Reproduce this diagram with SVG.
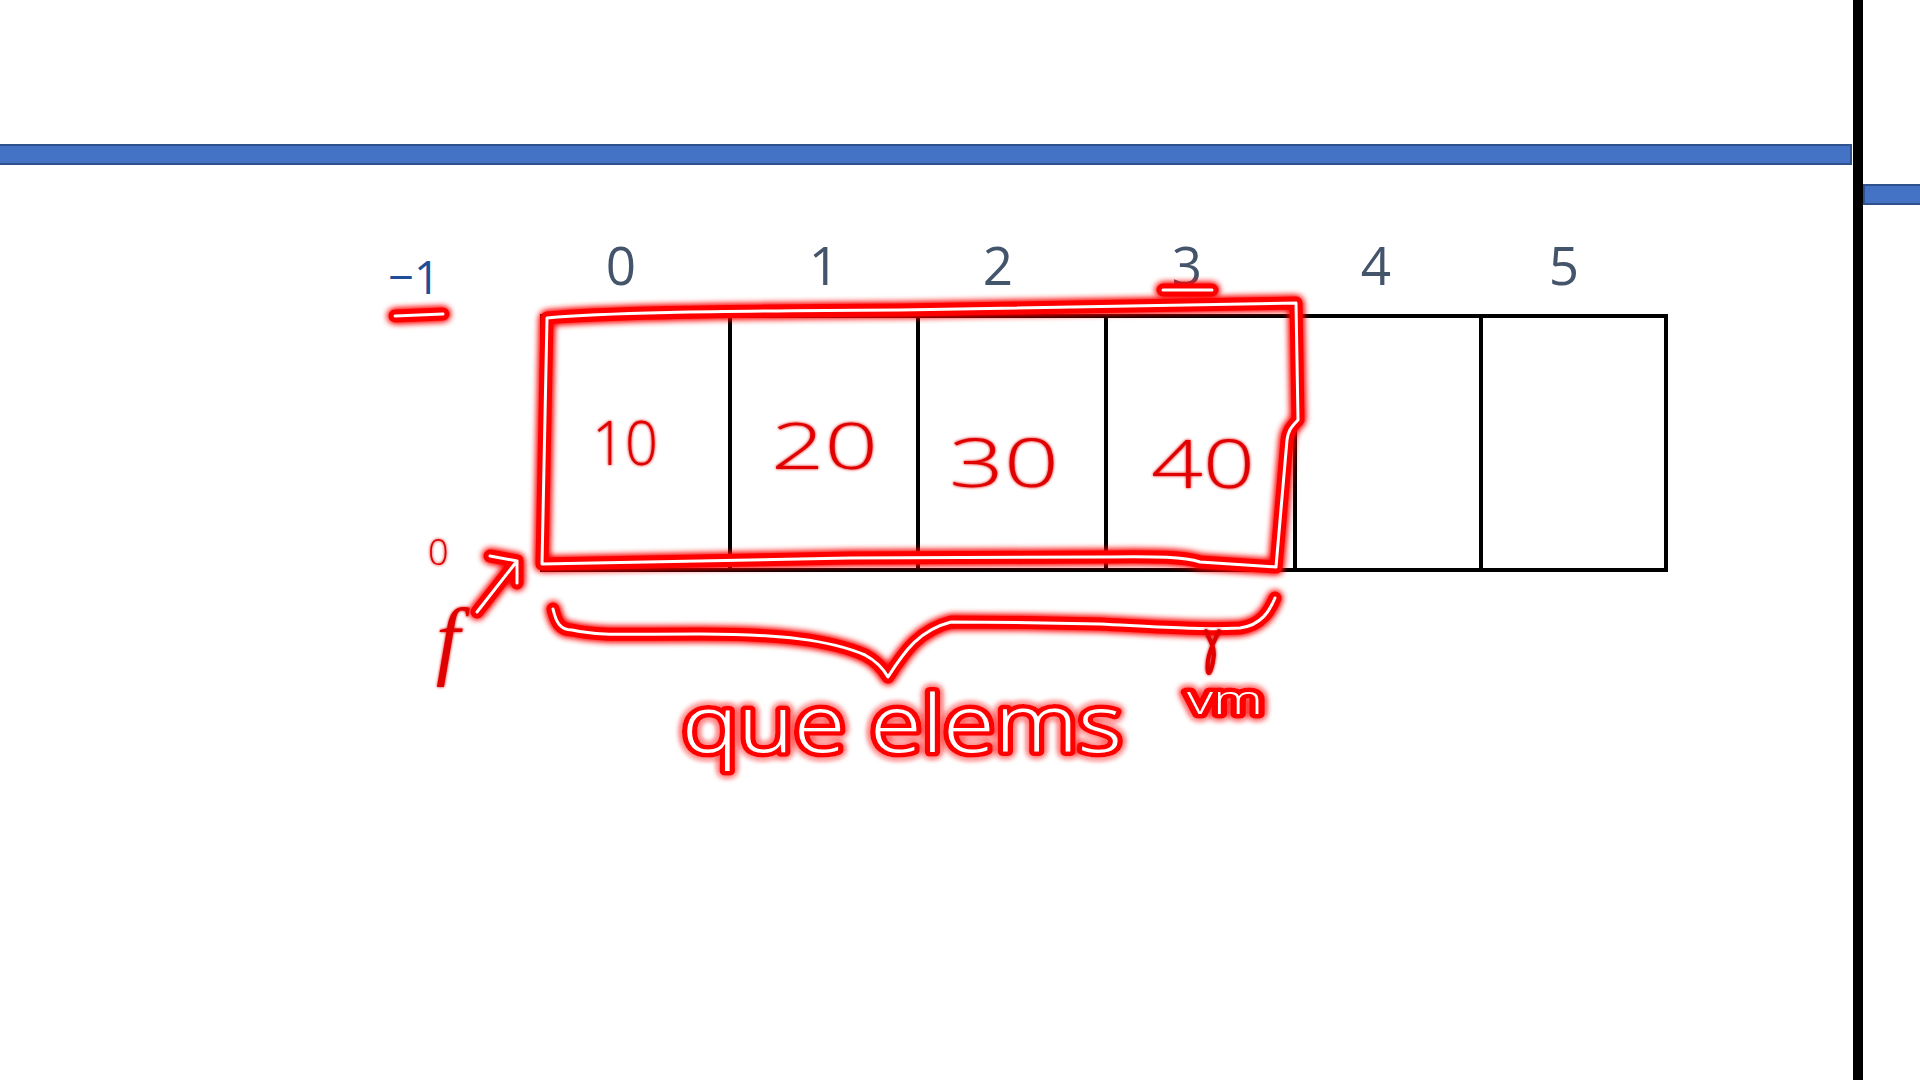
<svg xmlns="http://www.w3.org/2000/svg" width="1920" height="1080" viewBox="0 0 1920 1080">
<defs>
<filter id="glow" filterUnits="userSpaceOnUse" x="0" y="0" width="1920" height="1080">
<feGaussianBlur in="SourceGraphic" stdDeviation="3.5" result="b"/>
<feMerge><feMergeNode in="b"/><feMergeNode in="b"/><feMergeNode in="SourceGraphic"/></feMerge>
</filter>
<filter id="soft" filterUnits="userSpaceOnUse" x="0" y="0" width="1920" height="1080">
<feGaussianBlur in="SourceGraphic" stdDeviation="1.5" result="b"/>
<feMerge><feMergeNode in="b"/><feMergeNode in="SourceGraphic"/></feMerge>
</filter>
<style>
.idx{font-family:"Open Sans","Liberation Sans",sans-serif;font-size:53px;fill:#44546A;text-anchor:middle}
.cell{fill:#fff;stroke:#000;stroke-width:4}
.bar{fill:#4472C4;stroke:#2F528F;stroke-width:2}
.neonO{fill:none;stroke:#ff0000;stroke-width:13;stroke-linecap:round;stroke-linejoin:round;filter:url(#glow)}
.neonI{fill:none;stroke:#fff;stroke-width:3;stroke-linecap:round;stroke-linejoin:round}
.red{fill:none;stroke:#e00000;stroke-width:4;stroke-linecap:round;stroke-linejoin:round;filter:url(#soft)}
.hand{font-family:"Open Sans","Liberation Sans",sans-serif;font-weight:300;fill:#e00000;filter:url(#soft)}
.neonT{font-family:"Open Sans","Liberation Sans",sans-serif;font-weight:300;fill:#fff;stroke:#ff0000;stroke-width:9;paint-order:stroke;stroke-linejoin:round;filter:url(#glow)}
</style>
<path id="rectp" d="M547,318 C600,313 700,311 900,310 L1296,303 L1298,420 C1290,428 1288,432 1287,440 L1276,567 L1200,562 C1185,557 1160,556 1100,557 L850,558 L542,564 L547,318 Z"/>
<path id="bracep" d="M553,609 C556,622 560,630 572,630 C600,636 620,634 700,634 C780,634 830,640 865,655 C878,662 884,670 888,677 C905,650 920,630 951,622 C1000,622 1060,623 1100,624 C1160,627 1200,630 1240,628 C1262,625 1270,610 1275,598"/>
<path id="arrowp" d="M477,612 L517,561 M490,556 L517,561 L517,583"/>
<path id="ul1" d="M395,316 L443,314"/>
<path id="ul3" d="M1163,290 L1212,290"/>
</defs>
<rect width="1920" height="1080" fill="#fff"/>
<g id="frame">
<rect class="bar" x="-2" y="145" width="1853" height="19"/>
<rect x="1853" y="0" width="10" height="1080" fill="#000"/>
<rect class="bar" x="1864" y="185" width="60" height="19"/>
</g>
<g id="indices">
<text class="idx" x="621" y="285">0</text>
<text class="idx" x="824" y="285">1</text>
<text class="idx" x="998" y="285">2</text>
<text class="idx" x="1187" y="285">3</text>
<text class="idx" x="1376" y="285">4</text>
<text class="idx" x="1564" y="285">5</text>
<text x="388" y="294" font-family="Open Sans, Liberation Sans, sans-serif" font-size="46" fill="#1F4E99" textLength="52" lengthAdjust="spacingAndGlyphs">−1</text>
</g>
<g id="cell0"><rect class="cell" x="542" y="316" width="188" height="254"/><text class="hand" x="592" y="465" font-size="60" textLength="66" lengthAdjust="spacingAndGlyphs">10</text></g>
<g id="cell1"><rect class="cell" x="730" y="316" width="188" height="254"/><text class="hand" x="771" y="469" font-size="64" textLength="107" lengthAdjust="spacingAndGlyphs">20</text></g>
<g id="cell2"><rect class="cell" x="918" y="316" width="188" height="254"/><text class="hand" x="949" y="487" font-size="66" textLength="110" lengthAdjust="spacingAndGlyphs">30</text></g>
<g id="cell3"><rect class="cell" x="1106" y="316" width="189" height="254"/><text class="hand" x="1151" y="488" font-size="66" textLength="104" lengthAdjust="spacingAndGlyphs">40</text></g>
<g id="cell4"><rect class="cell" x="1295" y="316" width="186" height="254"/></g>
<g id="cell5"><rect class="cell" x="1481" y="316" width="185" height="254"/></g>
<g id="highlight">
<use href="#rectp" class="neonO"/><use href="#rectp" class="neonI"/>
<use href="#ul1" class="neonO"/><use href="#ul1" class="neonI"/>
<use href="#ul3" class="neonO"/><use href="#ul3" class="neonI"/>
<use href="#bracep" class="neonO"/><use href="#bracep" class="neonI"/>
<path class="red" d="M1206,631 C1212,645 1216,650 1213,662 C1210,677 1206,677 1208,660 C1210,648 1215,640 1219,631"/>
<text class="neonT" x="682" y="752" font-size="80" textLength="440" lengthAdjust="spacingAndGlyphs">que elems</text>
<text class="neonT" x="1187" y="714" font-size="40" textLength="76" lengthAdjust="spacingAndGlyphs">vm</text>
</g>
<g id="front">
<text class="hand" x="428" y="565" font-size="36">0</text>
<text x="436" y="668" font-family="Liberation Serif, serif" font-style="italic" font-size="86" fill="#e00000" style="filter:url(#soft)">f</text>
</g>
<g id="connectors">
<use href="#arrowp" class="neonO"/><use href="#arrowp" class="neonI"/>
</g>
</svg>
